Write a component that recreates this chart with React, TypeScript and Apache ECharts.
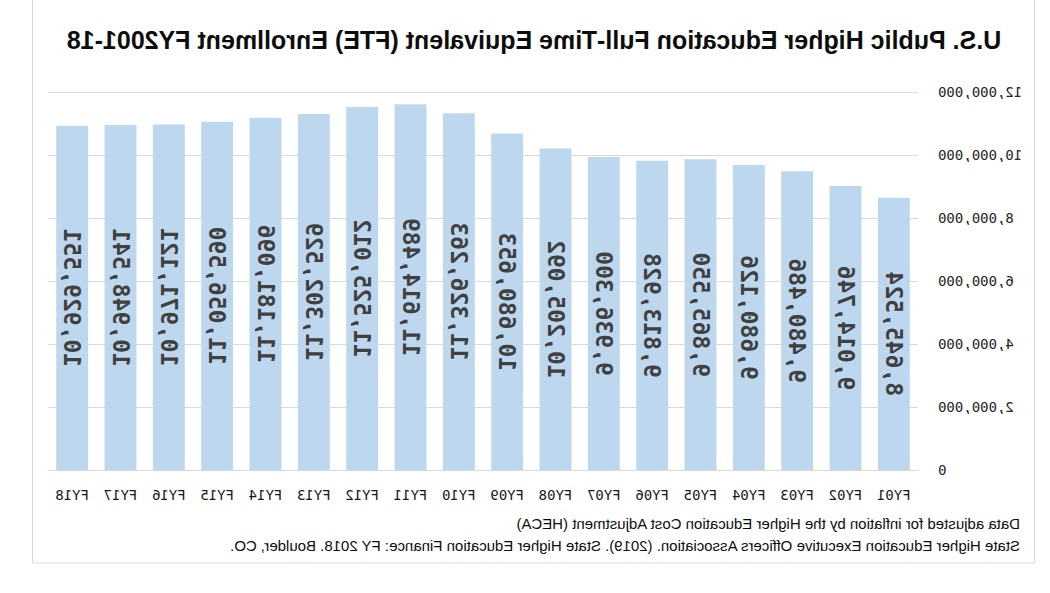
import React, { useEffect, useRef } from "react";
import * as echarts from "echarts";

const categories = ["FY01","FY02","FY03","FY04","FY05","FY06","FY07","FY08","FY09","FY10","FY11","FY12","FY13","FY14","FY15","FY16","FY17","FY18"];
const enrollment = [8645524, 9014746, 9480486, 9680126, 9865550, 9813928, 9936300, 10205092, 10680653, 11326263, 11614489, 11525012, 11302529, 11181096, 11056590, 10971121, 10948541, 10929551];
const titleText = "U.S. Public Higher Education Full-Time Equivalent (FTE) Enrollment FY2001-18";
const noteLines = [
  "Data adjusted for inflation by the Higher Education Cost Adjustment (HECA)",
  "State Higher Education Executive Officers Association. (2019). State Higher Education Finance: FY 2018. Boulder, CO.",
];
const yMin = 0;
const yMax = 12000000;
const yStep = 2000000;

const fmt = (v: number) => v.toLocaleString("en-US");

export default function App() {
  const ref = useRef<HTMLDivElement>(null);
  useEffect(() => {
    if (!ref.current) return;
    const chart = echarts.init(ref.current, null, { renderer: "svg" });
    chart.setOption({
      animation: false,
      backgroundColor: "#ffffff",
      grid: { left: 132, right: 48, top: 92, bottom: 123, containLabel: false },
      xAxis: {
        type: "category",
        data: categories,
        axisLine: { show: true, lineStyle: { color: "#d9d9d9", width: 1 } },
        axisTick: { show: false },
        axisLabel: { color: "#1a1a1a", fontFamily: "DejaVu Sans Mono", fontSize: 14, margin: 18 },
      },
      yAxis: {
        type: "value",
        min: yMin,
        max: yMax,
        interval: yStep,
        axisLine: { show: false },
        axisTick: { show: false },
        splitLine: { lineStyle: { color: "#d9d9d9", width: 1 } },
        axisLabel: { color: "#262626", fontFamily: "DejaVu Sans Mono", fontSize: 14, margin: 20, formatter: (v: number) => fmt(v) },
      },
      series: [
        {
          type: "bar",
          data: enrollment,
          barCategoryGap: "34%",
          itemStyle: { color: "#bdd7ee" },
          label: {
            show: true,
            position: "inside",
            rotate: 90,
            color: "#404040",
            fontFamily: "DejaVu Sans Mono",
            fontWeight: "bold",
            fontSize: 23,
            formatter: (p: any) => fmt(p.value),
          },
        },
      ],
      graphic: [
        {
          type: "rect",
          silent: true,
          shape: { x: 15.5, y: -5, width: 1002, height: 568 },
          style: { fill: "none", stroke: "#d9d9d9", lineWidth: 1 },
        },
        {
          type: "text",
          x: 516,
          y: 40,
          style: {
            text: titleText,
            fill: "#0d0d0d",
            font: "bold 25px 'Liberation Sans', Arial, sans-serif",
            textAlign: "center",
            textVerticalAlign: "middle",
          },
        },
        {
          type: "text",
          x: 30,
          y: 523,
          style: {
            text: noteLines[0],
            fill: "#0d0d0d",
            font: "15px 'Liberation Sans', Arial, sans-serif",
            textAlign: "left",
            textVerticalAlign: "middle",
          },
        },
        {
          type: "text",
          x: 30,
          y: 545,
          style: {
            text: noteLines[1],
            fill: "#0d0d0d",
            font: "15px 'Liberation Sans', Arial, sans-serif",
            textAlign: "left",
            textVerticalAlign: "middle",
          },
        },
      ],
    });
    return () => chart.dispose();
  }, []);
  return (
    <div
      style={{ position: "absolute", left: 0, top: 0, width: 1050, height: 593, transform: "scaleX(-1)", background: "#fff" }}
    >
      <div ref={ref} style={{ width: 1050, height: 593 }} />
    </div>
  );
}
